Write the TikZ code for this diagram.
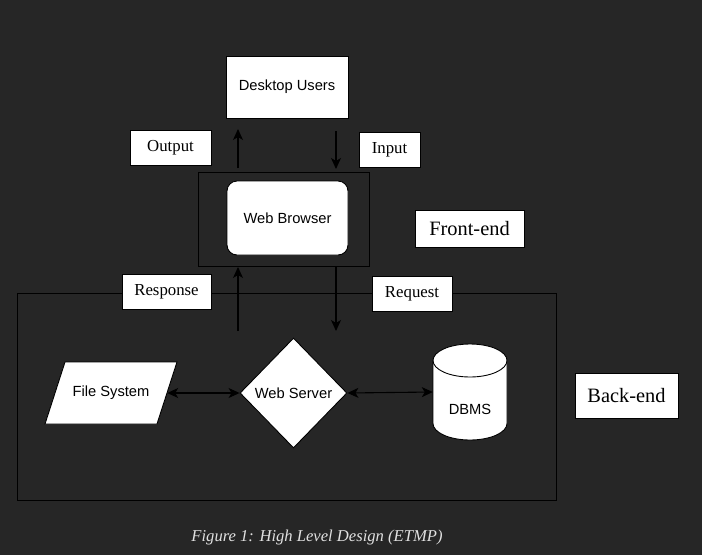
\documentclass[tikz,border=0pt]{standalone}
\usepackage{fontspec}
\setmainfont{Liberation Serif}
\setsansfont{Liberation Sans}
\usetikzlibrary{shapes.geometric,arrows.meta}
\definecolor{bg}{HTML}{262626}
\definecolor{capgray}{HTML}{E0E0E0}
\tikzset{
  box/.style={draw=black, fill=white, line width=0.9pt, inner sep=0pt, font=\sffamily\fontsize{14.7}{16}\selectfont, text=black},
  lbl/.style={draw=black, fill=white, line width=0.9pt, inner sep=0pt, font=\fontsize{16.8}{18}\selectfont, text=black},
  big/.style={lbl, font=\fontsize{20.4}{22}\selectfont},
  frame/.style={draw=black, line width=0.9pt, inner sep=0pt},
  tip/.tip={Stealth[length=11pt,width=10pt,inset=3pt]},
  arr/.style={draw=black, line width=1.1pt, -tip},
  biarr/.style={draw=black, line width=1.1pt, tip-tip},
}
\begin{document}
\begin{tikzpicture}[x=1pt,y=1pt]
\useasboundingbox (0,0) rectangle (702,-555);
\fill[bg] (0,0) rectangle (702,-555);
% frames
\node[frame, minimum width=539pt, minimum height=207pt] (back) at (286.5,-396.5) {};
\node[frame, minimum width=171pt, minimum height=94pt] (front) at (283.5,-219) {};
% main nodes
\node[box, minimum width=122pt, minimum height=62pt] (du) at (287,-87) {Desktop Users};
\node[box, rounded corners=10pt, minimum width=121pt, minimum height=74pt] (wb) at (287.5,-218) {Web Browser};
\node[box, diamond, minimum width=107pt, minimum height=110pt] (ws) at (293.5,-393) {Web Server};
% File System parallelogram
\filldraw[fill=white, draw=black, line width=0.9pt] (65,-362) -- (177,-362) -- (157,-424) -- (45,-424) -- cycle;
\node[font=\sffamily\fontsize{14.7}{16}\selectfont, text=black, inner sep=0pt, minimum width=112pt, minimum height=62pt] (fs) at (111,-393) {File System};
% DBMS cylinder
\node[inner sep=0pt, minimum width=74pt, minimum height=96pt] (db) at (470,-392) {};
\filldraw[fill=white, draw=black, line width=0.9pt] (433,-360.5) -- (433,-423.5) arc[start angle=180, end angle=360, x radius=37, y radius=16.5] -- (507,-360.5) arc[start angle=0, end angle=180, x radius=37, y radius=16.5] -- cycle;
\draw[black, line width=0.9pt] (433,-360.5) arc[start angle=180, end angle=360, x radius=37, y radius=16.5];
\node[font=\sffamily\fontsize{14.7}{16}\selectfont, text=black, inner sep=0pt] (dbt) at (470,-409) {DBMS};
% labels
\node[lbl, minimum width=81pt, minimum height=35pt] (out) at (170.5,-147.5) {Output};
\node[lbl, minimum width=61pt, minimum height=35pt] (in) at (389.5,-149.5) {Input};
\node[lbl, minimum width=89pt, minimum height=35pt] (resp) at (166.5,-291.5) {Response};
\node[lbl, minimum width=80pt, minimum height=35pt] (req) at (412,-293.5) {Request};
\node[big, minimum width=109pt, minimum height=37pt] (fe) at (469.5,-228.5) {Front-end};
\node[big, minimum width=103pt, minimum height=45pt] (be) at (626.5,-395.5) {Back-end};
% arrow ends
\coordinate (o1) at (238,-168);
\coordinate (o2) at (238,-129);
\coordinate (i1) at (336,-131);
\coordinate (i2) at (336,-169);
\coordinate (r1) at (238,-331);
\coordinate (r2) at (238,-267);
\coordinate (q1) at (336,-267);
\coordinate (q2) at (336,-331);
\draw[arr] (o1) -- (o2);
\draw[arr] (i1) -- (i2);
\draw[arr] (r1) -- (r2);
\draw[arr] (q1) -- (q2);
\draw[biarr] (fs.east) -- (ws.west);
\draw[biarr] (ws.east) -- (db.west);
% caption
\node[text=capgray, font=\itshape\fontsize{16.6}{18}\selectfont] (cap) at (317,-538) {Figure 1: High Level Design (ETMP)};
\end{tikzpicture}
\end{document}
